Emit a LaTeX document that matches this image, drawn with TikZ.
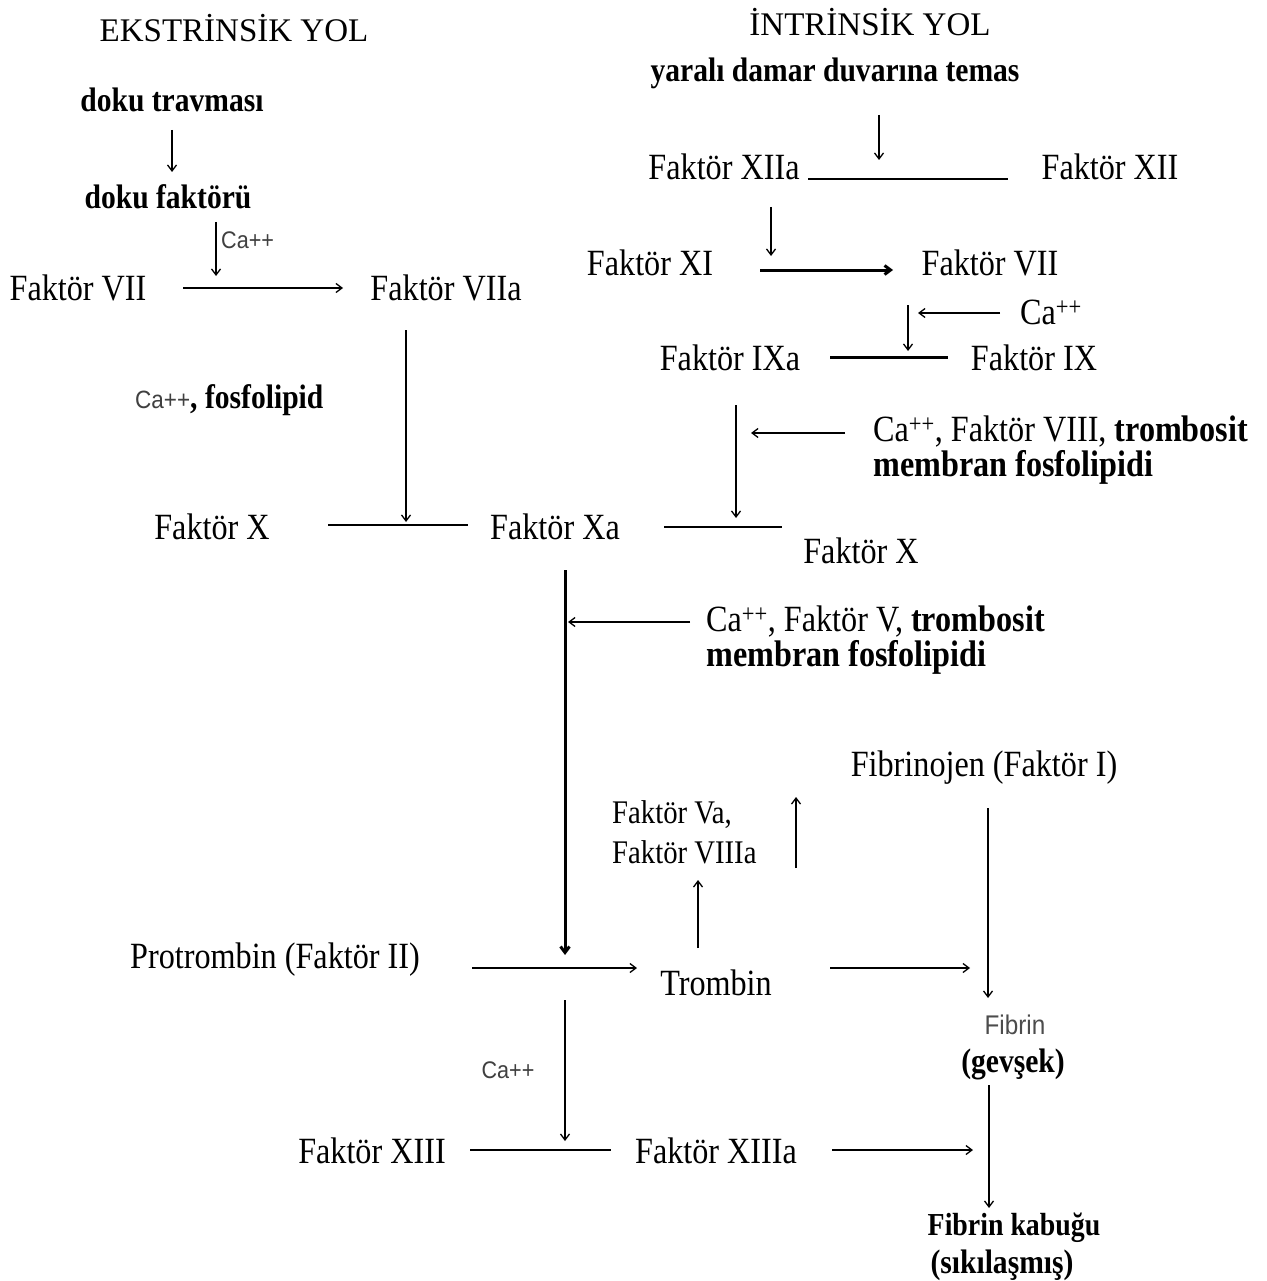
\documentclass[tikz,border=0pt]{standalone}
\usepackage{fontspec}
\setmainfont{Liberation Serif}[FakeStretch=0.87]
\newfontfamily\headfont{Liberation Serif}
\newfontfamily\sansf{Liberation Sans}[FakeStretch=0.9]
\usetikzlibrary{arrows.meta}
\newcommand\myfs[1]{\fontsize{#1}{#1}\selectfont}
\tikzset{
  tx/.style={inner sep=0pt, font=\myfs{37}},
  txs/.style={inner sep=0pt, font=\myfs{33}, align=left, anchor=west},
  hd/.style={inner sep=0pt, font=\headfont\myfs{33}},
  bd/.style={inner sep=0pt, font=\bfseries\myfs{34}},
  ca/.style={inner sep=0pt, font=\sansf\myfs{24}, text=black!75},
  two/.style={inner sep=0pt, align=left, anchor=west, font=\fontsize{37}{35}\selectfont},
  ar/.style={-{Straight Barb[length=6pt,width=9pt]}, line width=1.3pt},
  ln/.style={line width=1.3pt},
  thk/.style={line width=3pt},
  thkar/.style={-{Straight Barb[length=6pt,width=9pt]}, line width=3pt},
}
\begin{document}
\begin{tikzpicture}[x=1pt,y=-1pt]
\useasboundingbox[fill=white] (0,0) rectangle (1266,1281);
% titles
\node[hd] (ekh) at (234,28) {EKSTRİNSİK YOL};
\node[hd] (inh) at (870,22) {İNTRİNSİK YOL};
% extrinsic
\node[bd] (dt) at (172,100) {doku travması};
\node[bd] (df) at (168,197) {doku faktörü};
\node[ca, anchor=west] (ca1) at (221,240) {Ca++};
\node[tx] (f7) at (78,288) {Faktör VII};
\node[tx] (f7a) at (446,288) {Faktör VIIa};
\node[inner sep=0pt, anchor=west] (cafos) at (135,400) {{\sansf\myfs{25}\color{black!75}Ca++}{\bfseries\myfs{34}, fosfolipid}};
\node[tx] (fx1) at (212,527) {Faktör X};
\node[tx] (fxa) at (555,527) {Faktör Xa};
\node[tx] (fx2) at (861,551) {Faktör X};
\node[two] (c8) at (873,450) {Ca\textsuperscript{++}, Faktör VIII, \textbf{trombosit}\\\textbf{membran fosfolipidi}};
% intrinsic
\node[bd] (ydt) at (835,73) {yaralı damar duvarına temas};
\node[tx] (f12a) at (724,167) {Faktör XIIa};
\node[tx] (f12) at (1110,167) {Faktör XII};
\node[tx] (f11) at (650,263) {Faktör XI};
\node[tx] (f7i) at (990,263) {Faktör VII};
\node[tx, anchor=west] (ca2) at (1020,312) {Ca\textsuperscript{++}};
\node[tx] (f9a) at (730,358) {Faktör IXa};
\node[tx] (f9) at (1034,358) {Faktör IX};
\node[two] (c5) at (706,640) {Ca\textsuperscript{++}, Faktör V, \textbf{trombosit}\\\textbf{membran fosfolipidi}};
% common
\node[tx] (pt) at (275,960) {Protrombin (Faktör II)};
\node[tx] (tr) at (716,983) {Trombin};
\node[txs, font=\fontsize{33}{40}\selectfont] (fva) at (612,832) {Faktör Va,\\Faktör VIIIa};
\node[tx] (fbg) at (984,768) {Fibrinojen (Faktör I)};
\node[inner sep=0pt, font=\sansf\myfs{27}, text=black!70] (fib) at (1015,1025) {Fibrin};
\node[bd] (gev) at (1013,1064) {(gevşek)};
\node[bd, font=\bfseries\myfs{32}] (fk1) at (1014,1228) {Fibrin kabuğu};
\node[bd] (fk2) at (1002,1265) {(sıkılaşmış)};
\node[ca] (ca3) at (508,1070) {Ca++};
\node[tx] (f13) at (372,1151) {Faktör XIII};
\node[tx] (f13a) at (716,1151) {Faktör XIIIa};
% connector points
\coordinate (a1) at (172,130); \coordinate (a2) at (172,172);
\coordinate (b1) at (216,222); \coordinate (b2) at (216,276);
\coordinate (c1) at (183,288); \coordinate (c2) at (343,288);
\coordinate (d1) at (406,330); \coordinate (d2) at (406,522);
\coordinate (e1) at (328,525); \coordinate (e2) at (468,525);
\coordinate (g1) at (664,527); \coordinate (g2) at (782,527);
\coordinate (h1) at (736,405); \coordinate (h2) at (736,518);
\coordinate (i1) at (845,433); \coordinate (i2) at (751,433);
\coordinate (j1) at (879,115); \coordinate (j2) at (879,160);
\coordinate (k1) at (808,179); \coordinate (k2) at (1008,179);
\coordinate (l1) at (771,207); \coordinate (l2) at (771,256);
\coordinate (m1) at (760,270); \coordinate (m2) at (893,270);
\coordinate (n1) at (1000,313); \coordinate (n2) at (918,313);
\coordinate (o1) at (908,305); \coordinate (o2) at (908,351);
\coordinate (p1) at (830,357); \coordinate (p2) at (948,357);
\coordinate (q1) at (565,570); \coordinate (q2) at (565,955);
\coordinate (r1) at (690,622); \coordinate (r2) at (568,622);
\coordinate (s1) at (472,968); \coordinate (s2) at (637,968);
\coordinate (t1) at (698,948); \coordinate (t2) at (698,880);
\coordinate (u1) at (796,868); \coordinate (u2) at (796,797);
\coordinate (v1) at (988,808); \coordinate (v2) at (988,998);
\coordinate (w1) at (830,968); \coordinate (w2) at (970,968);
\coordinate (x1) at (989,1085); \coordinate (x2) at (989,1208);
\coordinate (y1) at (565,1000); \coordinate (y2) at (565,1141);
\coordinate (z1) at (470,1150); \coordinate (z2) at (611,1150);
\coordinate (zz1) at (832,1150); \coordinate (zz2) at (973,1150);
% connectors
\draw[ar] (a1) -- (a2);
\draw[ar] (b1) -- (b2);
\draw[ar] (c1) -- (c2);
\draw[ar] (d1) -- (d2);
\draw[ln] (e1) -- (e2);
\draw[ln] (g1) -- (g2);
\draw[ar] (h1) -- (h2);
\draw[ar] (i1) -- (i2);
\draw[ar] (j1) -- (j2);
\draw[ln] (k1) -- (k2);
\draw[ar] (l1) -- (l2);
\draw[thkar] (m1) -- (m2);
\draw[ar] (n1) -- (n2);
\draw[ar] (o1) -- (o2);
\draw[thk] (p1) -- (p2);
\draw[thkar] (q1) -- (q2);
\draw[ar] (r1) -- (r2);
\draw[ar] (s1) -- (s2);
\draw[ar] (t1) -- (t2);
\draw[ar] (u1) -- (u2);
\draw[ar] (v1) -- (v2);
\draw[ar] (w1) -- (w2);
\draw[ar] (x1) -- (x2);
\draw[ar] (y1) -- (y2);
\draw[ln] (z1) -- (z2);
\draw[ar] (zz1) -- (zz2);
\end{tikzpicture}
\end{document}
